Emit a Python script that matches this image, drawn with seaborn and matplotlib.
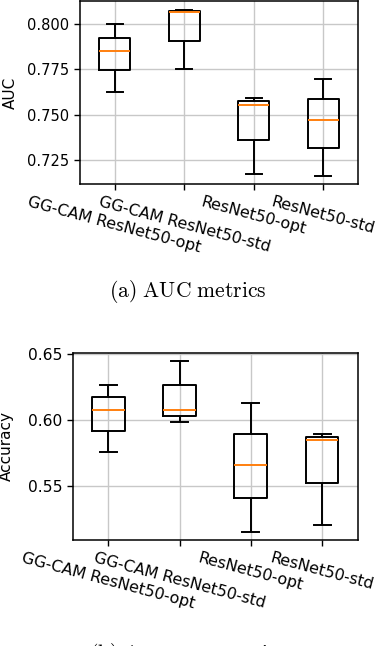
import pandas as pd
import matplotlib
matplotlib.use("Agg")
import matplotlib.pyplot as plt
import seaborn as sns

# --- Data ---
MODELS = ["GG-CAM ResNet50-opt", "GG-CAM ResNet50-std", "ResNet50-opt", "ResNet50-std"]

# AUC per run (5 runs per model)
auc_gg_opt = [0.7626, 0.7745, 0.7854, 0.7926, 0.8002]
auc_gg_std = [0.7752, 0.7909, 0.8067, 0.8074, 0.8080]
auc_rn_opt = [0.7168, 0.7359, 0.7552, 0.7574, 0.7593]
auc_rn_std = [0.7160, 0.7315, 0.7472, 0.7587, 0.7700]

# Accuracy per run
acc_gg_opt = [0.5758, 0.5919, 0.6078, 0.6174, 0.6267]
acc_gg_std = [0.5989, 0.6035, 0.6078, 0.6265, 0.6452]
acc_rn_opt = [0.5157, 0.5409, 0.5664, 0.5896, 0.6129]
acc_rn_std = [0.5208, 0.5525, 0.5851, 0.5874, 0.5896]

AUC_TICKS = [0.725, 0.750, 0.775, 0.800]
ACC_TICKS = [0.55, 0.60, 0.65]

MEDIAN_COLOR = "#ff7f0e"


def to_long(columns, name):
    """Stack per-model lists into a long DataFrame for seaborn."""
    rows = []
    for model, values in zip(MODELS, columns):
        for v in values:
            rows.append({"model": model, name: v})
    return pd.DataFrame(rows)


def draw_box(ax, df, col, width, ylim, yticks, fmt, tick_fs, label, label_x):
    sns.boxplot(
        data=df,
        x="model",
        y=col,
        order=MODELS,
        fill=False,
        color="black",
        width=width,
        linewidth=1.4,
        medianprops=dict(color=MEDIAN_COLOR, linewidth=1.4),
        capwidths=width * 0.52,
        ax=ax,
    )
    ax.set_ylim(*ylim)
    ax.set_xlim(-0.5, 3.5)
    ax.set_yticks(yticks)
    ax.set_yticklabels([fmt.format(t) for t in yticks], fontsize=tick_fs)
    ax.set_xticks(range(len(MODELS)))
    ax.set_xticklabels(MODELS, rotation=-15, ha="center", fontsize=11.4)
    ax.set_xlabel("")
    ax.set_ylabel(label, fontsize=11)
    ax.yaxis.set_label_coords(label_x, 0.5)
    ax.grid(True, color="#c8c8c8", linewidth=1.0)
    ax.set_axisbelow(True)
    for s in ax.spines.values():
        s.set_color("black")
        s.set_linewidth(1.1)
    ax.tick_params(axis="both", colors="black", width=1.0, length=4)


def main():
    plt.rcParams["mathtext.fontset"] = "cm"
    plt.rcParams["font.family"] = ["DejaVu Sans"]

    auc_df = to_long([auc_gg_opt, auc_gg_std, auc_rn_opt, auc_rn_std], "AUC")
    acc_df = to_long([acc_gg_opt, acc_gg_std, acc_rn_opt, acc_rn_std], "Accuracy")

    fig = plt.figure(figsize=(3.78, 6.46), dpi=100)
    ax1 = fig.add_axes([0.2116, 0.7152, 0.7354, 0.2833])
    ax2 = fig.add_axes([0.1923, 0.1641, 0.754, 0.29])

    draw_box(ax1, auc_df, "AUC", 0.45, (0.7115, 0.813), AUC_TICKS, "{:.3f}",
             10.5, "AUC", -0.225)
    draw_box(ax2, acc_df, "Accuracy", 0.46, (0.5093, 0.6512), ACC_TICKS, "{:.2f}",
             11.2, "Accuracy", -0.205)

    # LaTeX-style sub-captions (the second one is cut by the page edge, as in the source)
    fig.text(0.497, 1 - 291.7 / 646, r"$\mathrm{(a)\ AUC\ metrics}$",
             ha="center", va="center", fontsize=15.5)
    fig.text(0.497, 1 - 641.5 / 646, r"$\mathrm{(b)\ Accuracy\ metrics}$",
             ha="center", va="top", fontsize=15.5)

    fig.savefig("out.png", dpi=100)
    plt.close(fig)


if __name__ == "__main__":
    main()
